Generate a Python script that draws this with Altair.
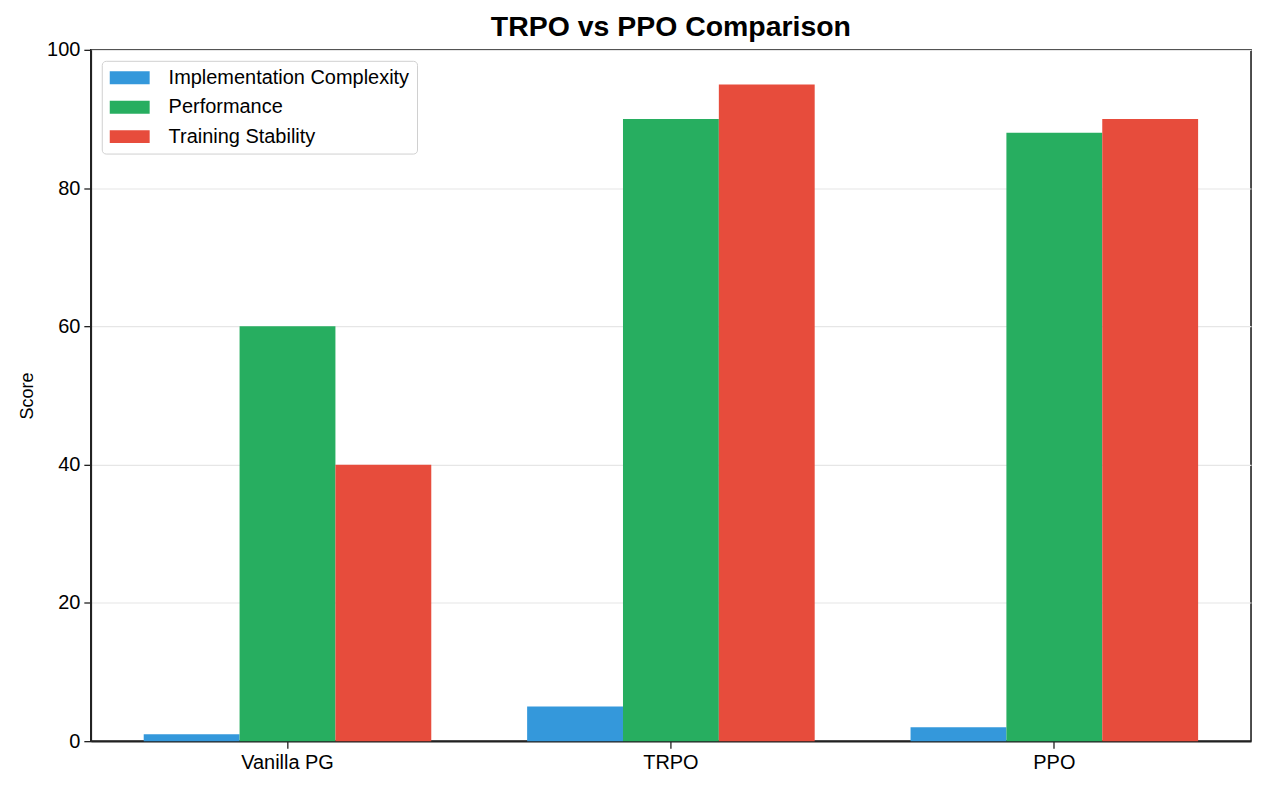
import altair as alt
import pandas as pd

methods = ["Vanilla PG", "TRPO", "PPO"]
series = ["Implementation Complexity", "Performance", "Training Stability"]
complexity = [1, 5, 2]
performance = [60, 90, 88]
stability = [40, 95, 90]
colors = ["#3498db", "#27ae60", "#e74c3c"]

rows = []
for i, m in enumerate(methods):
    for s, vals in zip(series, [complexity, performance, stability]):
        rows.append({"Method": m, "Metric": s, "Score": vals[i]})
df = pd.DataFrame(rows)

FONT = "Liberation Sans"

chart = alt.Chart(df).mark_bar().encode(
    x=alt.X("Method:N", sort=methods,
            scale=alt.Scale(paddingInner=0.25, paddingOuter=0.138),
            axis=alt.Axis(title=None, labelAngle=0, labelFontSize=20, labelColor="black",
                          labelFont=FONT, tickSize=7, tickWidth=1.3, tickColor="#222",
                          domainColor="#222", domainWidth=1.6, labelPadding=4, grid=False)),
    xOffset=alt.XOffset("Metric:N", sort=series, scale=alt.Scale(paddingInner=0, paddingOuter=0)),
    y=alt.Y("Score:Q", scale=alt.Scale(domain=[0, 100], nice=False),
            axis=alt.Axis(title="Score", values=[0, 20, 40, 60, 80, 100], labelFontSize=20,
                          labelColor="black", labelFont=FONT, titleFont=FONT, titleFontSize=18,
                          titleFontWeight="normal", titleColor="black", titlePadding=10,
                          tickSize=7, tickWidth=1.3, tickColor="#222", domainColor="#222",
                          domainWidth=1.6, labelPadding=4, grid=True, gridColor="#e6e6e6",
                          gridWidth=1.2)),
    color=alt.Color("Metric:N", sort=series,
                    scale=alt.Scale(domain=series, range=colors),
                    legend=alt.Legend(title=None, orient="top-left", offset=11,
                                      labelFontSize=20, labelFont=FONT, labelColor="black",
                                      labelLimit=500,
                                      symbolType="M-2,-0.65L2,-0.65L2,0.65L-2,0.65Z",
                                      symbolSize=400, symbolStrokeWidth=0,
                                      symbolOffset=11,
                                      rowPadding=9.5, padding=7, labelOffset=29,
                                      strokeColor="#d0d0d0", fillColor="white",
                                      cornerRadius=4)),
).properties(
    width=1163,
    height=693,
    title=alt.TitleParams("TRPO vs PPO Comparison", fontSize=28.5, fontWeight="bold",
                          font=FONT, color="black", anchor="middle", offset=-2,
                          frame="group"),
    autosize=alt.AutoSizeParams(type="none"),
    padding={"left": 83, "top": 41, "right": 10, "bottom": 40},
).configure_view(
    stroke="#222", strokeWidth=1.6
)

chart.save("out.html", embed_options={"renderer": "svg", "actions": False})
